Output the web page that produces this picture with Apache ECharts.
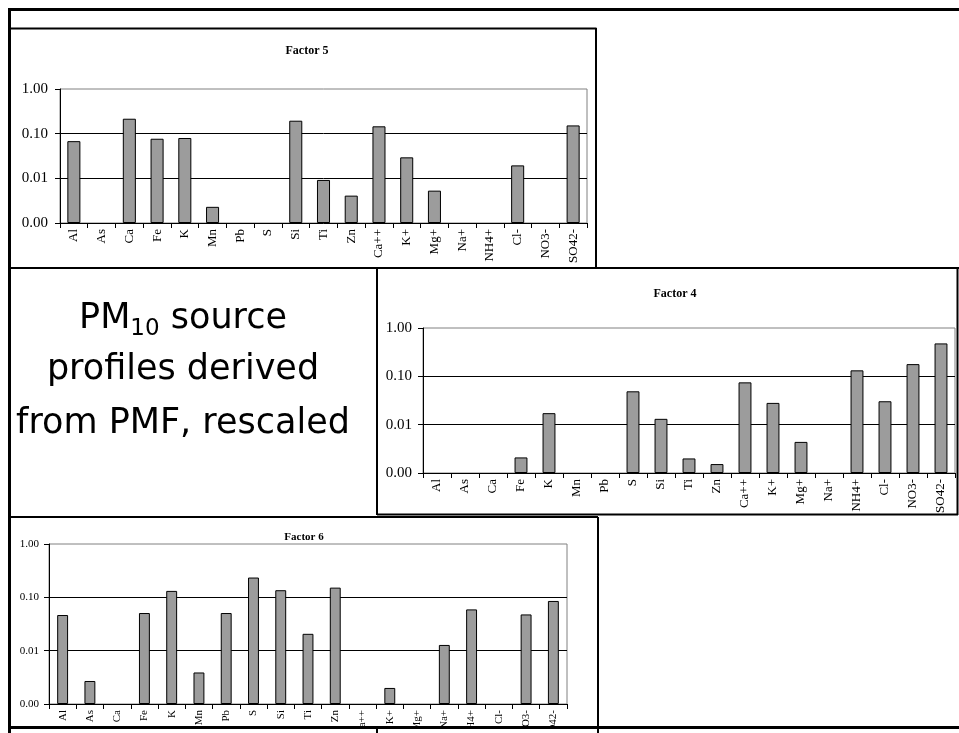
<!DOCTYPE html>
<html><head><meta charset="utf-8">
<script src="https://cdn.jsdelivr.net/npm/echarts@6/dist/echarts.min.js"></script>
<style>html,body{margin:0;padding:0;background:#fff}#c{width:959px;height:733px}</style>
</head><body><div id="c"></div>
<script>
const categories = ['Al','As','Ca','Fe','K','Mn','Pb','S','Si','Ti','Zn','Ca++','K+','Mg+','Na+','NH4+','Cl-','NO3-','SO42-'];
const factor5 = [0.068, null, 0.216, 0.077, 0.080, 0.0023, null, null, 0.195, 0.0092, 0.0041, 0.146, 0.0295, 0.0053, null, null, 0.0195, null, 0.153];
const factor4 = [null, null, null, 0.0021, 0.0173, null, null, 0.049, 0.0132, 0.0020, 0.00153, 0.075, 0.0282, 0.0044, null, 0.133, 0.0305, 0.179, 0.48];
const factor6 = [0.0466, 0.0027, null, 0.0508, 0.132, 0.0039, 0.0508, 0.235, 0.136, 0.0207, 0.152, null, 0.0020, null, 0.0128, 0.0594, null, 0.0478, 0.0855];
const yTickLabels = ['0.00','0.01','0.10','1.00'];
const titles = ['Factor 5','Factor 4','Factor 6'];
const noteMain = 'PM';
const noteSub = '10';
const noteLines = [' source','profiles derived','from PMF, rescaled'];

const SERIF = '"Liberation Serif","Times New Roman",serif';
const SANS = '"DejaVu Sans",Verdana,sans-serif';
const chart = echarts.init(document.getElementById('c'), null, {renderer:'canvas'});

const panels = [
  {data: factor5, grid:{left:60, top:89, width:527, height:134}, tx:302, ty:40, fs:13, ys:15, ym:12, ts:12, bw:'47%'},
  {data: factor4, grid:{left:423, top:328, width:532, height:145}, tx:670, ty:283, fs:13, ys:15, ym:11, ts:12, bw:'46%'},
  {data: factor6, grid:{left:49, top:544, width:518, height:160}, tx:299, ty:527, fs:11, ys:11, ym:10, ts:11, bw:'40%'}
];

const grids = [], xAxes = [], yAxes = [], series = [], titleComps = [];
panels.forEach((p, i) => {
  grids.push(Object.assign({show:true, borderColor:'#808080', borderWidth:1, backgroundColor:'transparent', containLabel:false, outerBoundsMode:'none'}, p.grid));
  xAxes.push({
    type:'category', gridIndex:i, data:categories, boundaryGap:true,
    axisLine:{show:true, lineStyle:{color:'#000', width:1}},
    axisTick:{show:true, interval:0, length:5, alignWithLabel:false, lineStyle:{color:'#000'}},
    axisLabel:{interval:0, rotate:90, margin:6, color:'#000', fontFamily:SERIF, fontSize:p.fs},
    splitLine:{show:false}
  });
  yAxes.push({
    type:'log', logBase:10, gridIndex:i, min:0.001, max:1, startValue:0.001,
    axisLine:{show:true, lineStyle:{color:'#000', width:1}},
    axisTick:{show:true, length:5, lineStyle:{color:'#000'}},
    axisLabel:{color:'#000', fontFamily:SERIF, fontSize:p.ys, margin:p.ym,
      formatter: v => yTickLabels[Math.round(Math.log10(v)) + 3]},
    splitLine:{show:true, showMinLine:false, showMaxLine:false, lineStyle:{color:'#000', width:1}},
    minorTick:{show:false}, minorSplitLine:{show:false}
  });
  series.push({
    type:'bar', xAxisIndex:i, yAxisIndex:i, data:p.data, barWidth:p.bw,
    itemStyle:{color:'#9c9c9c', borderColor:'#000', borderWidth:1},
    emphasis:{disabled:true}, animation:false
  });
  titleComps.push({text:titles[i], left:p.tx, top:p.ty, textAlign:'center',
    textStyle:{fontFamily:SERIF, fontWeight:'bold', fontSize:p.ts, color:'#000'}});
});

// text note measured with canvas
const ctx = document.createElement('canvas').getContext('2d');
function w(t, f){ ctx.font = f; return ctx.measureText(t).width; }
const mainSize = 35, subSize = 23;
const mainFont = mainSize + 'px ' + SANS, subFont = subSize + 'px ' + SANS;
const wPM = w(noteMain, mainFont), w10 = w(noteSub, subFont), wS = w(noteLines[0], mainFont);
const cx = 183;
const x0 = cx - (wPM + w10 + wS) / 2;
const txt = (t, x, y, size, align) => ({type:'text', z:50, x:x, y:y,
  style:{text:t, fontFamily:SANS, fontSize:size, fill:'#000', textAlign:align, textVerticalAlign:'middle'}});

const line = (x1,y1,x2,y2,lw,z) => ({type:'line', z:z||110, shape:{x1,y1,x2,y2}, style:{stroke:'#000', lineWidth:lw}});

const graphics = [
  {type:'rect', z:100, shape:{x:11, y:728, width:948, height:10}, style:{fill:'#fff'}},
  txt(noteMain, x0, 319, mainSize, 'left'),
  txt(noteSub, x0 + wPM, 329, subSize, 'left'),
  txt(noteLines[0], x0 + wPM + w10, 319, mainSize, 'left'),
  txt(noteLines[1], cx, 370, mainSize, 'center'),
  txt(noteLines[2], cx, 424, mainSize, 'center'),
  // outer frame
  line(8, 9.5, 959, 9.5, 3),
  line(9.5, 8, 9.5, 733, 3),
  // factor 5 box
  line(8, 28.5, 596.5, 28.5, 2),
  line(596, 28, 596, 268, 2),
  line(8, 268, 959, 268, 2),
  // factor 4 box
  line(377, 268, 377, 515, 2),
  line(957.5, 268, 957.5, 515, 2),
  line(377, 514.5, 958, 514.5, 2),
  // factor 6 box
  line(8, 517, 598, 517, 2),
  line(598, 517, 598, 733, 2),
  // bottom
  line(8, 727.5, 959, 727.5, 3),
  line(377, 727, 377, 733, 2)
];

chart.setOption({
  animation:false,
  backgroundColor:'#fff',
  title:titleComps,
  grid:grids, xAxis:xAxes, yAxis:yAxes, series:series,
  graphic:graphics
});
</script></body></html>
